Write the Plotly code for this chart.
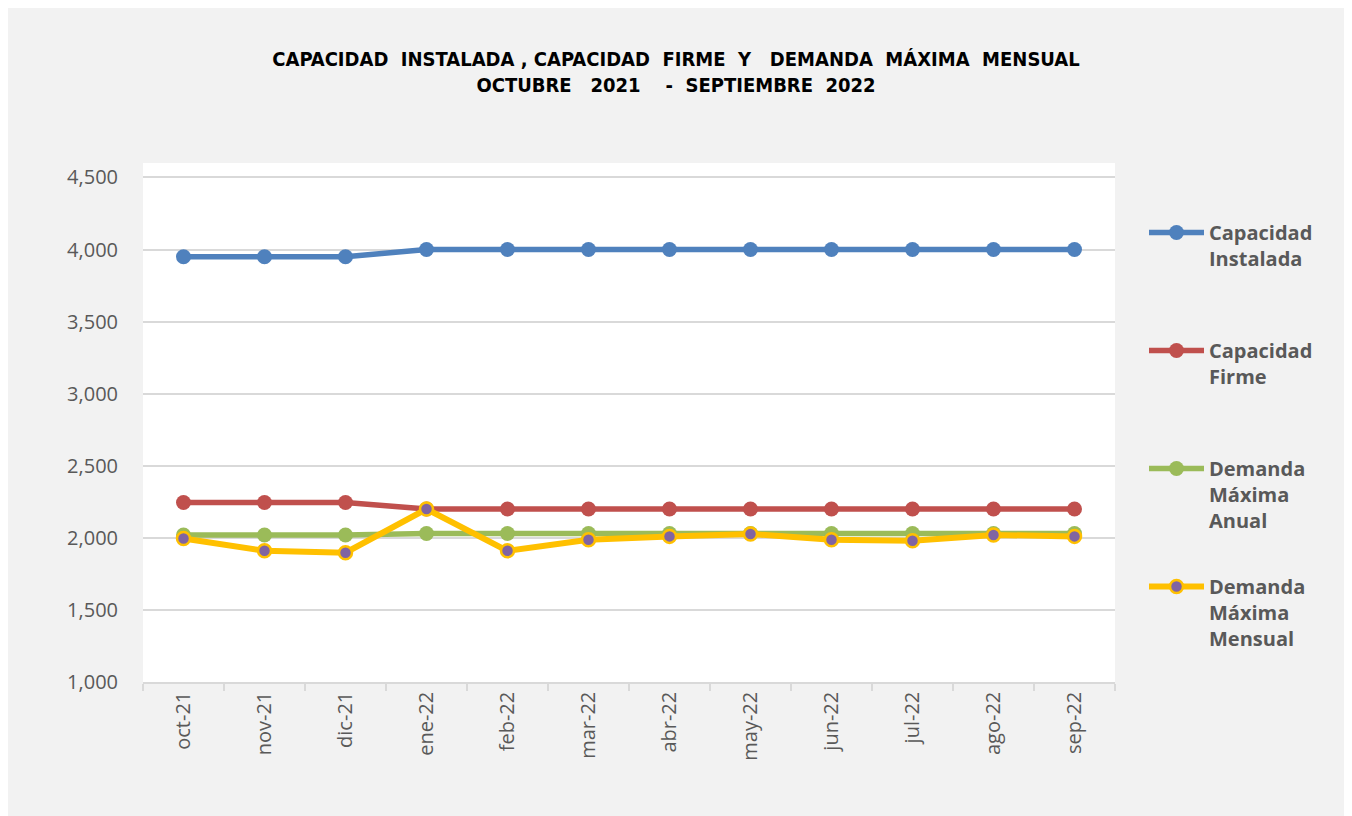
import plotly.graph_objects as go

months = ["oct-21", "nov-21", "dic-21", "ene-22", "feb-22", "mar-22",
          "abr-22", "may-22", "jun-22", "jul-22", "ago-22", "sep-22"]
cap_instalada = [3950, 3950, 3950, 4000, 4000, 4000, 4000, 4000, 4000, 4000, 4000, 4000]
cap_firme = [2245, 2245, 2245, 2200, 2200, 2200, 2200, 2200, 2200, 2200, 2200, 2200]
dem_anual = [2020, 2020, 2020, 2030, 2030, 2030, 2030, 2030, 2030, 2030, 2030, 2030]
dem_mensual = [1995, 1910, 1897, 2200, 1910, 1987, 2010, 2027, 1987, 1980, 2020, 2010]
y_ticks = [1000, 1500, 2000, 2500, 3000, 3500, 4000, 4500]

NB = "\u00a0"
names = ["Capacidad<br>Instalada<br>" + NB,
         "Capacidad<br>Firme<br>" + NB,
         "Demanda<br>Máxima<br>Anual",
         "Demanda<br>Máxima<br>Mensual"]

fig = go.Figure()
fig.add_trace(go.Scatter(x=months, y=cap_instalada, name=names[0], mode="lines+markers",
                         line=dict(color="#4F81BD", width=5.5), marker=dict(size=15, color="#4F81BD"),
                         legendgroup="a"))
fig.add_trace(go.Scatter(x=months, y=cap_firme, name=names[1], mode="lines+markers",
                         line=dict(color="#C0504D", width=5.5), marker=dict(size=15, color="#C0504D"),
                         legendgroup="b"))
fig.add_trace(go.Scatter(x=months, y=dem_anual, name=names[2], mode="lines+markers",
                         line=dict(color="#9BBB59", width=5.5), marker=dict(size=15, color="#9BBB59"),
                         legendgroup="c"))
fig.add_trace(go.Scatter(x=months, y=dem_mensual, name=names[3], mode="lines+markers",
                         line=dict(color="#FFC000", width=6),
                         marker=dict(size=13, color="#8064A2", line=dict(color="#FFC000", width=2.5)),
                         legendgroup="d"))

OFF = 8  # browser body margin
W, H = 1352 - OFF, 816 - OFF
L, R, T, B = 143 - OFF, 1115 - OFF, 163 - OFF, 682 - OFF
pw, ph = R - L, B - T

def px2x(p):
    return (p - OFF - L) / pw

def px2y(p):
    return (B - (p - OFF)) / ph

title_txt = ("CAPACIDAD" + NB + " INSTALADA , CAPACIDAD" + NB + " FIRME" + NB + " Y" + NB + NB + " DEMANDA"
             + NB + " MÁXIMA" + NB + " MENSUAL<br>OCTUBRE" + NB + NB + " 2021" + NB + NB + NB + " -"
             + NB + " SEPTIEMBRE" + NB + " 2022")

fig.update_layout(
    width=W, height=H,
    margin=dict(l=L, r=W - R, t=T, b=H - B),
    paper_bgcolor="white",
    plot_bgcolor="white",
    font=dict(family="Open Sans, Noto Sans, sans-serif", color="#595959"),
    title=dict(text=title_txt, x=(676 - OFF) / W, xanchor="center", xref="container",
               y=1 - (66 - OFF) / H, yanchor="top", yref="container",
               font=dict(family="Liberation Sans Narrow, DejaVu Sans Condensed, Arial", size=20,
                         color="#000000", weight="bold")),
    showlegend=True,
    legend=dict(x=px2x(1144), xanchor="left", y=px2y(213), yanchor="top",
                bgcolor="rgba(0,0,0,0)", valign="top", tracegroupgap=37, itemwidth=55,
                font=dict(family="Open Sans, sans-serif", size=20, color="#595959", weight="bold")),
    shapes=[
        dict(type="rect", xref="paper", yref="paper", layer="below",
             x0=px2x(7), x1=px2x(1347), y0=px2y(840), y1=px2y(7),
             fillcolor="#F2F2F2", line=dict(color="#D9D9D9", width=1.5)),
        dict(type="rect", xref="paper", yref="paper", layer="below",
             x0=0, x1=1, y0=0, y1=1, fillcolor="white", line=dict(width=0)),
    ],
)

fig.update_xaxes(type="category", showgrid=False, showline=True, linecolor="#D9D9D9", linewidth=1.5,
                 ticks="outside", tickson="boundaries", ticklen=7, tickcolor="#D9D9D9", tickwidth=1.5,
                 tickangle=-90, tickfont=dict(size=20, color="#595959"), range=[-0.5, 11.5])
fig.update_yaxes(range=[1000, 4600], tickvals=y_ticks, tickformat=",", showgrid=True,
                 gridcolor="#D9D9D9", gridwidth=1.5, zeroline=False, showline=False,
                 tickfont=dict(size=20, color="#595959"), ticklabelstandoff=24)

fig.write_html("out.html")
